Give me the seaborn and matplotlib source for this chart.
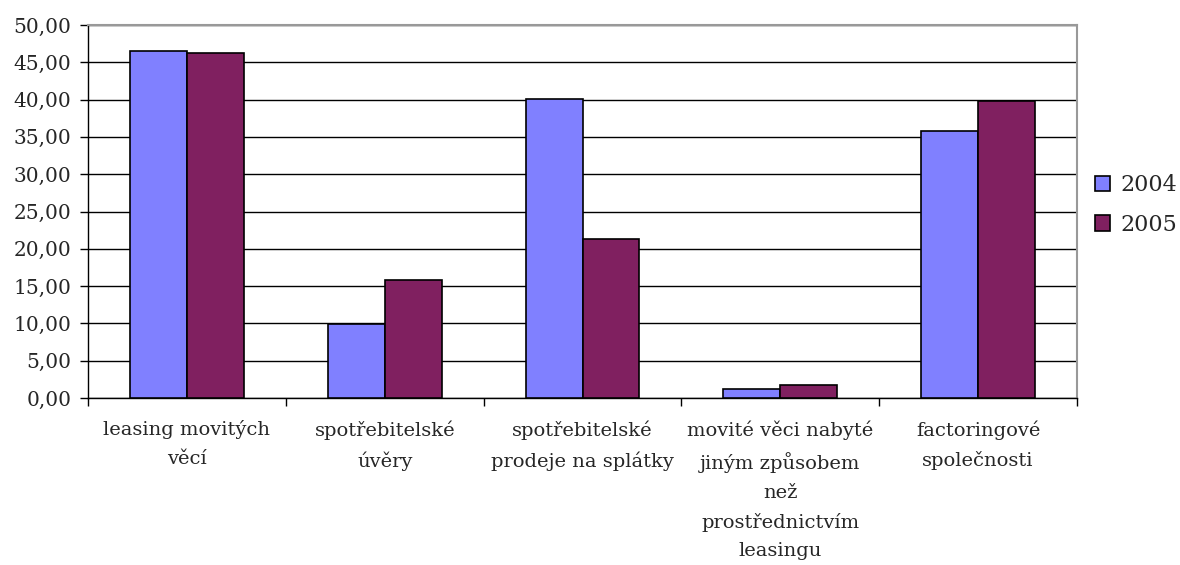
import pandas as pd
import matplotlib.pyplot as plt
import seaborn as sns
from matplotlib.ticker import FixedLocator

sns.set_style('white')
plt.rcParams['font.family'] = ['DejaVu Serif']

categories = ['leasing movitých\nvěcí',
              'spotřebitelské\núvěry',
              'spotřebitelské\nprodeje na splátky',
              'movité věci nabyté\njiným způsobem\nnež\nprostřednictvím\nleasingu',
              'factoringové\nspolečnosti']
years = ['2004', '2005']
values_2004 = [46.47, 9.93, 40.07, 1.25, 35.78]
values_2005 = [46.24, 15.79, 21.29, 1.70, 39.85]
y_ticks = [0, 5, 10, 15, 20, 25, 30, 35, 40, 45, 50]

df = pd.DataFrame({
    'category': categories * 2,
    'year': [years[0]] * len(categories) + [years[1]] * len(categories),
    'value': values_2004 + values_2005,
})

fig = plt.figure(figsize=(11.8, 5.65), dpi=100)
ax = fig.add_axes([88 / 1180, 1 - 398 / 565, (1077 - 88) / 1180, (398 - 25) / 565])

sns.barplot(data=df, x='category', y='value', hue='year', order=categories, hue_order=years,
            palette=['#8080FF', '#802060'], width=0.575, edgecolor='black', linewidth=1.2,
            saturation=1, errorbar=None, ax=ax, zorder=3)

ax.set_xlim(-0.5, len(categories) - 0.5)
ax.set_ylim(0, 50)
ax.set_yticks(y_ticks)
ax.set_yticklabels([f'{v:.2f}'.replace('.', ',') for v in y_ticks], fontsize=14.5)
ax.yaxis.grid(True, color='black', linewidth=1)
ax.set_axisbelow(True)
ax.set_xlabel('')
ax.set_ylabel('')

ax.tick_params(axis='y', which='major', left=True, length=6, width=1, color='black', pad=6)
ax.tick_params(axis='x', which='major', length=0, pad=16, labelsize=14)
ax.xaxis.set_minor_locator(FixedLocator([i - 0.5 for i in range(len(categories) + 1)]))
ax.tick_params(axis='x', which='minor', bottom=True, length=6, width=1, color='black')
for lbl in ax.get_xticklabels():
    lbl.set_linespacing(1.74)

for side in ['left', 'bottom']:
    ax.spines[side].set_color('black')
    ax.spines[side].set_linewidth(1)
for side in ['top', 'right']:
    ax.spines[side].set_color('#999999')
    ax.spines[side].set_linewidth(1.5)

handles, labels = ax.get_legend_handles_labels()
ax.legend(handles, labels, loc='center left', bbox_to_anchor=(1095 / 1180, 1 - 205 / 565),
          bbox_transform=fig.transFigure, frameon=False, borderpad=0, borderaxespad=0,
          prop={'family': 'DejaVu Serif', 'size': 16}, handlelength=0.68, handleheight=0.68,
          handletextpad=0.45, labelspacing=0.8)

fig.savefig('out.png', dpi=100)
